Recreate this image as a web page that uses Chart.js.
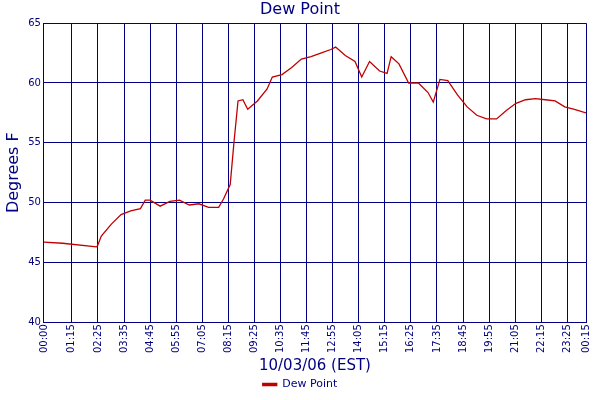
<!DOCTYPE html>
<html>
<head>
<script src="https://cdn.jsdelivr.net/npm/chart.js@4"></script>
<style>body{margin:0;background:#fff}#wrap{width:600px;height:400px}</style>
</head>
<body>
<div id="wrap"><canvas id="chart"></canvas></div>
<script>
// minutes since midnight and dew point readings (°F)
var minutes = [0,50,141,144,154,181,207,233,259,272,285,312,338,364,390,416,442,469,482,500,510,521,534,547,573,599,613,639,665,691,717,743,770,783,809,835,853,874,901,921,932,953,979,1005,1031,1045,1063,1084,1110,1136,1162,1188,1215,1241,1267,1293,1319,1346,1372,1398,1424,1455];
var dewPoint = [46.7,46.6,46.3,46.4,47.2,48.2,49.0,49.3,49.5,50.2,50.2,49.7,50.1,50.2,49.8,49.9,49.6,49.6,50.3,51.5,55.0,58.5,58.6,57.8,58.5,59.5,60.5,60.7,61.3,62.0,62.2,62.5,62.8,63.0,62.3,61.8,60.5,61.8,61.0,60.8,62.2,61.6,60.0,60.0,59.2,58.4,60.3,60.2,59.0,58.0,57.3,57.0,57.0,57.7,58.3,58.6,58.7,58.6,58.5,58.0,57.8,57.5];
var tickMinutes = [0,75,145,215,285,355,425,495,565,635,705,775,845,915,985,1055,1125,1195,1265,1335,1405,1455];

var navy = '#000080';
Chart.defaults.font.family = 'DejaVu Sans';

function fmt(m) {
    m = m % 1440;
    var h = Math.floor(m / 60), mm = m % 60;
    return (h < 10 ? '0' : '') + h + ':' + (mm < 10 ? '0' : '') + mm;
}

var points = minutes.map(function(m, i) { return {x: m, y: dewPoint[i]}; });

new Chart(document.getElementById('chart'), {
    type: 'line',
    data: {
        datasets: [{
            label: 'Dew Point',
            data: points,
            borderColor: '#c00000',
            backgroundColor: '#c00000',
            borderWidth: 1.3,
            pointRadius: 0,
            tension: 0
        }]
    },
    options: {
        responsive: true,
        maintainAspectRatio: false,
        animation: false,
        layout: {padding: {right: 0, top: 0, bottom: 0}},
        plugins: {
            title: {display: true, text: 'Dew Point', color: navy, font: {size: 16, weight: 'normal'}, padding: {top: 0, bottom: 4}},
            legend: {
                position: 'bottom',
                labels: {color: navy, boxWidth: 14, boxHeight: 2, font: {size: 11}, padding: 4}
            }
        },
        scales: {
            x: {
                type: 'linear',
                min: 0, max: 1455,
                afterBuildTicks: function(axis) {
                    axis.ticks = tickMinutes.map(function(v) { return {value: v}; });
                },
                ticks: {color: navy, maxRotation: 90, minRotation: 90, font: {size: 10}, padding: 2,
                    callback: function(v) { return fmt(v); }},
                grid: {color: navy, drawTicks: false},
                border: {color: navy},
                title: {display: true, text: '10/03/06 (EST)', color: navy, font: {size: 15}, padding: {top: 2, bottom: 0}}
            },
            y: {
                min: 40, max: 65,
                ticks: {stepSize: 5, color: navy, font: {size: 10}},
                grid: {color: navy, drawTicks: false},
                border: {color: navy},
                title: {display: true, text: 'Degrees F', color: navy, font: {size: 16}, padding: {bottom: 2}}
            }
        }
    }
});
</script>
</body>
</html>
